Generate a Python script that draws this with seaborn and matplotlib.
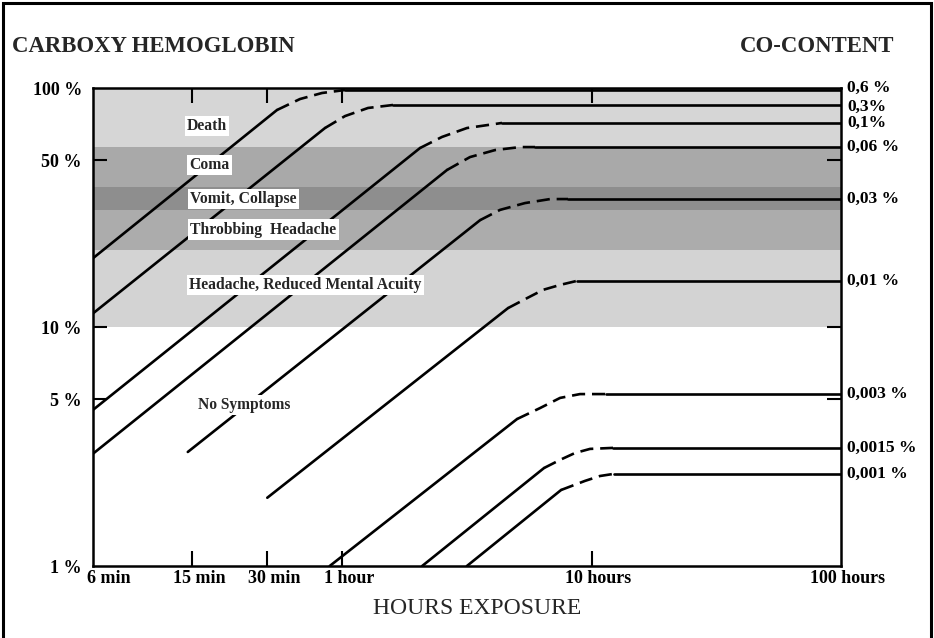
import matplotlib
matplotlib.use("Agg")
import matplotlib.pyplot as plt
from matplotlib.patches import Rectangle
from matplotlib.ticker import NullLocator
import numpy as np
import pandas as pd
import seaborn as sns

# CO concentration in air for each uptake curve
co_labels = ["0,6 %", "0,3%", "0,1%", "0,06 %", "0,03 %", "0,01 %", "0,003 %", "0,0015 %", "0,001 %"]

# straight rise of COHb (start and end of the solid part), hours / percent
rise_start_h = [0.1, 0.1, 0.1, 0.1, 0.24, 0.5, 0.89, 2.09, 3.16]
rise_start_pct = [19.4, 11.4, 4.5, 2.95, 3.0, 1.93, 1.0, 1.0, 1.0]
rise_end_h = [0.547, 0.852, 2.05, 2.63, 3.57, 4.62, 5.02, 6.44, 7.54]
rise_end_pct = [80.9, 68.0, 56.1, 45.4, 28.0, 12.0, 4.12, 2.57, 2.08]

# bend towards saturation (dashed)
bend_h = [
    [0.547, 0.676, 0.829, 1.025],
    [0.852, 1.025, 1.268, 1.597],
    [2.05, 2.51, 3.16, 4.37],
    [2.63, 3.25, 4.10, 5.16, 5.93],
    [3.57, 4.29, 5.40, 6.81, 8.04],
    [4.62, 5.50, 6.38, 7.47, 8.74],
    [5.02, 6.21, 7.47, 8.98, 11.4],
    [6.44, 7.47, 8.57, 9.85, 12.18],
    [7.54, 9.40, 10.80, 12.29],
]
bend_pct = [
    [80.9, 89.9, 95.3, 98.1],
    [68.0, 76.3, 82.5, 84.9],
    [56.1, 62.4, 68.0, 71.4],
    [45.4, 51.4, 55.0, 56.6, 56.6],
    [28.0, 30.9, 33.0, 34.3, 34.3],
    [12.0, 13.2, 14.3, 15.0, 15.6],
    [4.12, 4.58, 5.05, 5.24, 5.24],
    [2.57, 2.78, 2.97, 3.09, 3.12],
    [2.08, 2.27, 2.38, 2.43],
]

# saturation level reached after long exposure
plateau_pct = [98.1, 84.9, 71.4, 56.6, 34.3, 15.6, 5.24, 3.12, 2.43]
plateau_end_h = 100

# symptom bands (COHb percent)
band_edges = [10, 21, 31, 38.5, 56.6, 100]
band_names = ["Headache, Reduced Mental Acuity", "Throbbing  Headache",
              "Vomit, Collapse", "Coma", "Death"]
band_grays = ["#d3d3d3", "#acacac", "#8e8e8e", "#a9a9a9", "#d6d6d6"]

x_ticks_h = [0.1, 0.25, 0.5, 1, 10, 100]
x_tick_labels = ["6 min", "15 min", "30 min", "1 hour", "10 hours", "100 hours"]
y_ticks_pct = [1, 5, 10, 50, 100]
y_tick_labels = ["1 %", "5 %", "10 %", "50 %", "100 %"]

# long table of all segments
rows = []
for i in range(len(co_labels)):
    seg = f"c{i}"
    rows.append((rise_start_h[i], rise_start_pct[i], seg + "r", "rise"))
    rows.append((rise_end_h[i], rise_end_pct[i], seg + "r", "rise"))
    for h, p in zip(bend_h[i], bend_pct[i]):
        rows.append((h, p, seg + "b", "bend"))
    rows.append((bend_h[i][-1], plateau_pct[i], seg + "p", "plateau"))
    rows.append((plateau_end_h, plateau_pct[i], seg + "p", "plateau"))
df = pd.DataFrame(rows, columns=["hours", "cohb", "seg", "kind"])

sns.set_theme(style="white")
plt.rcParams["font.family"] = ["Liberation Serif", "DejaVu Serif"]

W, H = 934, 638
fig = plt.figure(figsize=(W / 100, H / 100), dpi=100)
ax = fig.add_axes([93 / W, 72 / H, 748 / W, 478 / H])
ax.set_xscale("log")
ax.set_yscale("log")
ax.set_xlim(0.1, 100)
ax.set_ylim(1, 100)

for lo, hi, g in zip(band_edges[:-1], band_edges[1:], band_grays):
    ax.axhspan(lo, hi, color=g, lw=0, zorder=0)

sns.lineplot(data=df, x="hours", y="cohb", units="seg", style="kind",
             dashes={"rise": "", "bend": (5, 2.6), "plateau": ""},
             estimator=None, sort=False, color="black", lw=1.9,
             legend=False, ax=ax, zorder=3)

ax.set_xlabel("")
ax.set_ylabel("")
ax.grid(False)
for s in ax.spines.values():
    s.set_color("black")
    s.set_linewidth(1.8)

ax.set_xticks([0.25, 0.5, 1, 10])
ax.set_yticks([5, 10, 50])
ax.xaxis.set_minor_locator(NullLocator())
ax.yaxis.set_minor_locator(NullLocator())
ax.tick_params(axis="x", direction="in", length=11, width=1.5, color="black",
               top=True, bottom=True, labelbottom=False, labeltop=False)
ax.tick_params(axis="y", direction="in", length=10, width=1.5, color="black",
               left=True, right=True, labelleft=False, labelright=False)

tick_font = dict(fontsize=13, fontweight="bold", color="black")
for h, lab in zip(x_ticks_h, x_tick_labels):
    if h == x_ticks_h[0]:
        ax.annotate(lab, (h, 0), xycoords=("data", "axes fraction"),
                    xytext=(-4, -3), textcoords="offset points",
                    ha="left", va="top", **tick_font)
    else:
        ax.annotate(lab, (h, 0), xycoords=("data", "axes fraction"),
                    xytext=(5, -3), textcoords="offset points",
                    ha="center", va="top", **tick_font)
for p, lab in zip(y_ticks_pct, y_tick_labels):
    ax.annotate(lab, (0, p), xycoords=("axes fraction", "data"),
                xytext=(-8, -2), textcoords="offset points",
                ha="right", va="center", **tick_font)

# the two topmost concentration labels sit very close; nudge them apart
label_dy = [1.6, -1.2, 0, 0, 0, 0, 0, 0, 0]
for p, lab, dy in zip(plateau_pct, co_labels, label_dy):
    ax.annotate(lab, (1, p), xycoords=("axes fraction", "data"),
                xytext=(4.5, dy), textcoords="offset points",
                ha="left", va="center", fontsize=12.6, fontweight="bold",
                color="black")

# symptom labels on white boxes
box = dict(boxstyle="square,pad=0.15", fc="white", ec="none")
band_label_pos = [(0.243, 15.0), (0.245, 25.5), (0.245, 34.3), (0.243, 47.6), (0.238, 69.3)]
for (h, p), name in zip(band_label_pos, band_names):
    ax.text(h, p, name, fontsize=11.3, fontweight="bold", ha="left", va="center",
            bbox=box, zorder=5)
ax.text(0.264, 4.72, "No Symptoms", fontsize=11.2, fontweight="bold",
        ha="left", va="center", bbox=box, zorder=5)

fig.text(12 / W, 1 - 47 / H, "CARBOXY HEMOGLOBIN", fontsize=16.4, fontweight="bold",
         ha="left", va="center")
fig.text(894 / W, 1 - 47 / H, "CO-CONTENT", fontsize=16.4, fontweight="bold",
         ha="right", va="center")
fig.text(477 / W, 1 - 608 / H, "HOURS EXPOSURE", fontsize=17,
         ha="center", va="center")

# page frame
fig.patches.append(Rectangle((3 / W, -0.02), 928 / W, 1.02 - 3 / H,
                             transform=fig.transFigure, fill=False,
                             ec="black", lw=2.2))

fig.savefig("out.png", dpi=100)
